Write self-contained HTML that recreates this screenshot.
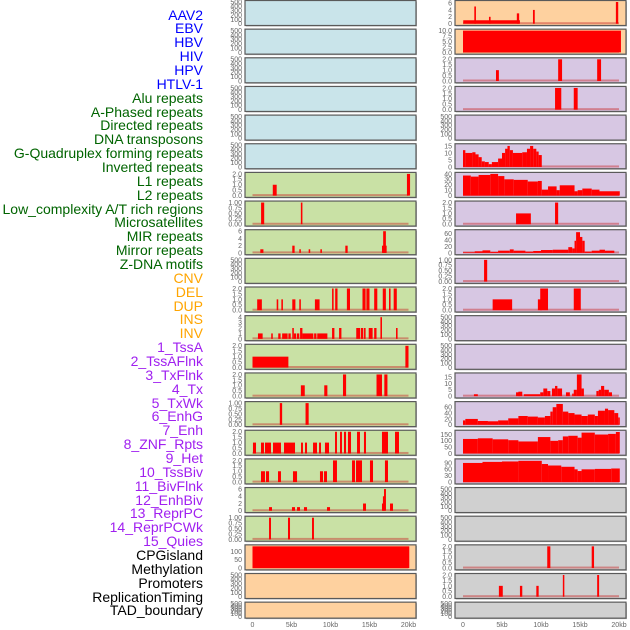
<!DOCTYPE html>
<html><head><meta charset="utf-8">
<style>
html,body{margin:0;padding:0;background:#fff;}
#wrap{position:relative;width:630px;height:630px;overflow:hidden;font-family:"Liberation Sans",sans-serif;}
.lbl{position:absolute;right:427px;font-size:14px;line-height:14px;white-space:nowrap;text-align:right;}
</style></head>
<body>
<div id="wrap">
<svg id="svg" width="630" height="630" style="position:absolute;left:0;top:0"></svg>
</div>
<script>
// ---- data ----
const trackLabels = ["AAV2","EBV","HBV","HIV","HPV","HTLV-1","Alu repeats","A-Phased repeats","Directed repeats","DNA transposons","G-Quadruplex forming repeats","Inverted repeats","L1 repeats","L2 repeats","Low_complexity A/T rich regions","Microsatellites","MIR repeats","Mirror repeats","Z-DNA motifs","CNV","DEL","DUP","INS","INV","1_TssA","2_TssAFlnk","3_TxFlnk","4_Tx","5_TxWk","6_EnhG","7_Enh","8_ZNF_Rpts","9_Het","10_TssBiv","11_BivFlnk","12_EnhBiv","13_ReprPC","14_ReprPCWk","15_Quies","CPGisland","Methylation","Promoters","ReplicationTiming","TAD_boundary"];
const labelColors = ["#0000ff","#0000ff","#0000ff","#0000ff","#0000ff","#0000ff","#006400","#006400","#006400","#006400","#006400","#006400","#006400","#006400","#006400","#006400","#006400","#006400","#006400","#ffa500","#ffa500","#ffa500","#ffa500","#ffa500","#a020f0","#a020f0","#a020f0","#a020f0","#a020f0","#a020f0","#a020f0","#a020f0","#a020f0","#a020f0","#a020f0","#a020f0","#a020f0","#a020f0","#a020f0","#000000","#000000","#000000","#000000","#000000"];
const xTickValues = [0,5,10,15,20];
const xTickLabels = ["0","5kb","10kb","15kb","20kb"];
const T500 = [0,100,200,300,400,500];
const T2 = [0,0.5,1,1.5,2];
const T1 = [0,0.25,0.5,0.75,1];
// per-row y domain max and ticks
const leftYMax = [500,500,500,500,500,500, 2,1,6,500,2,4,2,2,1,2,2,6,1, 130,500,500];
const leftTicks = [T500,T500,T500,T500,T500,T500, T2,T1,[0,2,4,6],T500,T2,[0,1,2,3,4],T2,T2,T1,T2,T2,[0,2,4,6],T1, [0,50,100],T500,T500];
const rightYMax = [6.3,10,2,2,500,15.5,40,2,68,1,2,500,500,17,74,172,102, 500,500,2,2,500];
const rightTicks = [[0,2,4,6],[0,2.5,5,7.5,10],T2,T2,T500,[0,5,10,15],[0,10,20,30,40],T2,[0,20,40,60],T1,T2,T500,T500,[0,5,10,15],[0,20,40,60],[0,50,100,150],[0,30,60,90], T500,T500,T2,T2,T500];
const tickDecimals = {"T2":1,"T1":2};
// segments: [startKb, endKb, value]
const leftSegments = [
 [],[],[],[],[],[],
 [[2.6,3.1,1],[19.8,20.2,2]],
 [[1.1,1.5,1],[6.2,6.4,1]],
 [[1.0,1.4,1],[5.1,5.4,2],[6.0,6.2,1],[7.2,7.4,1],[8.7,8.9,1],[11.9,12.2,2],[16.6,17.2,2],[16.75,17.1,6]],
 [],
 [[0.6,1.2,1],[3.1,3.3,1],[3.7,3.9,1],[5.1,5.5,1],[6.0,6.2,1],[8.0,8.6,1],[10.2,10.4,2],[10.6,10.9,2],[12.1,12.5,2],[14.1,14.5,2],[14.6,15.0,2],[15.6,16.0,2],[16.7,17.1,2],[17.5,17.7,2],[18.1,18.5,2]],
 [[0.7,1.3,1],[2.4,2.6,1],[3.3,3.6,1],[3.8,4.5,1],[4.6,4.9,1],[5.1,5.3,2],[5.3,5.6,1],[5.7,6.0,1],[6.1,6.4,2],[6.4,7.8,1],[7.9,8.2,1],[8.3,9.6,1],[10.2,10.5,2],[11.1,11.4,2],[13.3,13.8,2],[13.9,14.2,2],[14.3,14.5,2],[14.9,15.4,2],[15.6,15.9,2],[16.4,16.6,4],[18.4,18.6,2]],
 [[0,4.6,1],[19.6,20.0,2]],
 [[6.2,6.7,1],[9.2,9.6,1],[11.6,12.0,2],[15.9,16.6,2],[16.9,17.3,2]],
 [[3.5,3.8,1],[6.8,7.2,1]],
 [[0.06,0.45,1],[1.09,1.47,1],[1.6,2.37,1],[2.63,3.14,1],[3.14,3.65,1],[4.04,5.45,1],[6.22,6.47,1],[6.73,6.99,1],[7.76,8.27,1],[8.53,8.78,1],[9.29,9.81,1],[10.58,10.83,2],[11.22,11.47,2],[11.73,11.99,2],[12.24,12.63,2],[13.4,13.78,2],[14.29,14.55,2],[16.6,17.37,2],[18.27,18.78,2]],
 [[1.09,1.6,1],[1.73,2.12,1],[3.27,3.65,1],[5.19,5.71,1],[8.65,9.04,1],[9.17,9.55,1],[10.32,10.83,2],[12.76,13.14,2],[13.27,14.04,2],[15.06,15.45,2],[16.98,17.37,2]],
 [[2.12,2.5,1],[5.06,5.45,1],[5.71,6.09,1],[6.6,6.99,1],[9.55,9.94,1],[14.17,14.55,2],[16.6,16.86,2],[16.72,16.95,4],[16.86,17.11,6],[17.63,18.01,2]],
 [[2.12,2.37,1],[4.55,4.81,1],[7.63,7.88,1]],
 [[0,20.1,130]],
 [],[]
];
const rightSegments = [
 [[0.03,7.3,1],[1.45,1.66,5],[3.33,3.54,2],[6.9,7.2,3],[8.97,9.2,4],[19.6,19.9,6.3]],
 [[0,20.25,10]],
 [[4.23,4.6,1],[12.2,12.7,2],[17.2,17.7,2]],
 [[11.8,12.6,2],[14.2,14.7,2]],
 [],
 [[0,0.3,12],[0.3,1.2,10],[1.2,1.6,10.5],[1.6,2.0,9],[2.0,2.4,7],[2.4,2.8,4],[2.8,3.3,3.5],[3.3,3.7,2],[3.7,4.5,3.5],[4.5,5.0,6],[5.0,5.4,10],[5.4,5.7,13],[5.7,6.0,15],[6.0,6.4,12],[6.4,7.6,10],[7.6,8.2,10.5],[8.2,8.6,13],[8.6,9.0,15],[9.0,9.4,13],[9.4,9.7,11],[9.7,10.1,8.5]],
 [[0,1.0,37],[1.0,2.0,35],[2.0,3.5,38],[3.5,4.5,40],[4.5,5.3,36],[5.3,6.5,30],[6.5,8.3,29],[8.3,9.6,26],[9.6,10.1,27],[10.1,10.9,11],[10.9,12.0,17],[12.0,12.4,10],[12.4,14.3,19],[14.3,14.7,8],[14.7,15.3,10],[15.3,16.5,13],[16.5,17.5,11],[17.5,20.1,8]],
 [[6.8,8.7,1],[11.8,12.2,2]],
 [[0,1.5,2],[1.5,2.5,5],[2.5,3.5,8],[3.5,4.5,3],[4.5,6.0,7],[6.0,6.5,11],[6.5,8.0,7],[8.0,9.0,4],[9.0,10.0,6],[10.0,11.5,9],[11.5,13.5,10],[13.5,14.0,18],[14.0,14.3,14],[14.3,14.5,38],[14.5,15.0,65],[15.0,15.3,50],[15.3,15.6,38],[15.6,16.5,4],[16.5,17.5,7],[17.5,18.2,10],[18.2,19.4,7]],
 [[2.7,3.1,1]],
 [[3.8,6.3,1],[9.6,10.1,1],[9.9,10.9,2],[14.2,15.1,2]],
 [],[],
 [[1.4,1.9,1.5],[6.8,7.3,3],[7.1,7.6,3.5],[7.8,9.9,1.5],[9.9,10.3,3],[10.3,10.8,6],[10.8,11.2,4],[11.4,11.8,6],[11.8,12.1,8],[12.1,12.7,6],[13.2,13.7,3],[14.0,14.2,2],[14.2,14.6,5],[14.6,15.2,17],[15.2,15.5,6],[17.1,17.4,4],[17.4,17.7,5],[17.7,18.1,8],[18.1,18.7,5],[18.7,19.1,3]],
 [[0,0.3,15],[0.3,1.9,20],[1.9,3.2,13],[3.2,4.5,12],[4.5,5.8,15],[5.8,7.1,22],[7.1,8.3,30],[8.3,9.6,28],[9.6,10.5,25],[10.5,11.2,30],[11.2,11.5,45],[11.5,11.97,60],[11.97,12.8,71],[12.8,13.5,45],[13.5,14.3,40],[14.3,15.2,35],[15.2,16.0,30],[16.0,16.9,35],[16.9,17.3,30],[17.3,18.2,48],[18.2,18.6,55],[18.6,19.4,50],[19.4,19.9,40],[19.9,20.1,25]],
 [[0,1.9,115],[1.9,3.8,120],[3.8,5.8,112],[5.8,7.1,105],[7.1,9.6,95],[9.6,11.2,130],[11.2,12.2,100],[12.2,12.8,105],[12.8,13.5,135],[13.5,14.7,140],[14.7,15.2,125],[15.2,16.9,165],[16.9,18.6,150],[18.6,19.6,155],[19.6,20.1,170]],
 [[0,2.5,90],[2.5,5.0,95],[5.0,7.1,97],[7.1,10.1,100],[10.1,10.9,85],[10.9,12.6,78],[12.6,14.3,72],[14.3,14.7,60],[14.7,15.2,52],[15.2,16.9,60],[16.9,19.0,62],[19.0,20.1,64]],
 [],[],
 [[10.8,11.2,2],[16.5,16.8,2]],
 [[4.6,5.1,1],[7.3,7.6,1],[9.4,9.7,1],[12.8,12.95,2],[17.2,17.45,2]],
 []
];
const leftColors = ["#c9e4ea","#c9e4ea","#c9e4ea","#c9e4ea","#c9e4ea","#c9e4ea","#c9e1a5","#c9e1a5","#c9e1a5","#c9e1a5","#c9e1a5","#c9e1a5","#c9e1a5","#c9e1a5","#c9e1a5","#c9e1a5","#c9e1a5","#c9e1a5","#c9e1a5","#fed19f","#fed19f","#fed19f"];
const rightColors = ["#fed19f","#fed19f","#d7c7e3","#d7c7e3","#d7c7e3","#d7c7e3","#d7c7e3","#d7c7e3","#d7c7e3","#d7c7e3","#d7c7e3","#d7c7e3","#d7c7e3","#d7c7e3","#d7c7e3","#d7c7e3","#d7c7e3","#d0d0d0","#d0d0d0","#d0d0d0","#d0d0d0","#d0d0d0"];

// ---- drawing ----
const NS = "http://www.w3.org/2000/svg";
const svg = document.getElementById("svg");
const wrap = document.getElementById("wrap");
const PITCH = 28.65;
function rowTop(i){ return i*PITCH + 0.5; }
function rowH(i){ return i===21 ? 16 : 25; }
function xScale(col, kb){ return (col===0 ? 252.5 : 463) + kb*7.8; }
function yScale(top, h, ymax, v){ const b = top+h-1.8; return b - v/ymax*(h-3.3); }
function mk(tag, attrs){ const e=document.createElementNS(NS,tag); for(const k in attrs) e.setAttribute(k, attrs[k]); svg.appendChild(e); return e; }
function fmt(t, ticks){
  if (ticks===T1) return t.toFixed(2);
  if (ticks.some(v=>v%1!==0)) return t.toFixed(1);
  return String(t);
}
function drawPanel(col, i){
  const px = col===0 ? 245 : 455, pw = 171;
  const top = rowTop(i), h = rowH(i);
  const ymax = col===0 ? leftYMax[i] : rightYMax[i];
  const ticks = col===0 ? leftTicks[i] : rightTicks[i];
  const segs = col===0 ? leftSegments[i] : rightSegments[i];
  const bg = mk("rect",{x:px+1,y:top+1,width:pw,height:h,fill:"#bbb"});
  
  
  const r = mk("rect",{x:px,y:top,width:pw,height:h,fill:(col===0?leftColors[i]:rightColors[i]),stroke:"#5a5a5a","stroke-width":1.2});
  
  
  const textX = col===0 ? 242 : 452;
  ticks.forEach(t=>{
    const y = yScale(top,h,ymax,t);
    const tx = mk("text",{x:textX,y:y+2.4,"font-size":7,"text-anchor":"end",fill:"#666","font-family":"Liberation Sans, sans-serif"});
    tx.textContent = fmt(t, ticks);
    
    
  });
  if (segs.length){
    const bl = mk("rect",{x:xScale(col,0),y:yScale(top,h,ymax,0)-1.5,width:xScale(col,20)-xScale(col,0),height:2,fill:"rgba(200,40,40,0.45)"});
    
    
  }
  segs.forEach(s=>{
    const x1 = xScale(col,s[0]), x2 = xScale(col,s[1]);
    const y1 = yScale(top,h,ymax,s[2]), y0 = yScale(top,h,ymax,0);
    const b = mk("rect",{x:x1,y:y1,width:Math.max(1.5,x2-x1),height:y0-y1,fill:"#ff0000"});
    
    
  });
}
for (let i=0;i<22;i++){ drawPanel(0,i); drawPanel(1,i); }
[0,1].forEach(col=>{
  xTickValues.forEach((v,k)=>{
    const t = mk("text",{x:xScale(col,v),y:627,"font-size":7,"text-anchor":"middle",fill:"#666","font-family":"Liberation Sans, sans-serif"});
    t.textContent = xTickLabels[k];
    
    
  });
});
trackLabels.forEach((name,k)=>{
  const d = document.createElement("div");
  d.className = "lbl";
  d.style.top = (15 + k*13.86 - 7.5) + "px";
  d.style.color = labelColors[k];
  d.textContent = name;
  
  
  wrap.appendChild(d);
});
</script>
</body></html>
